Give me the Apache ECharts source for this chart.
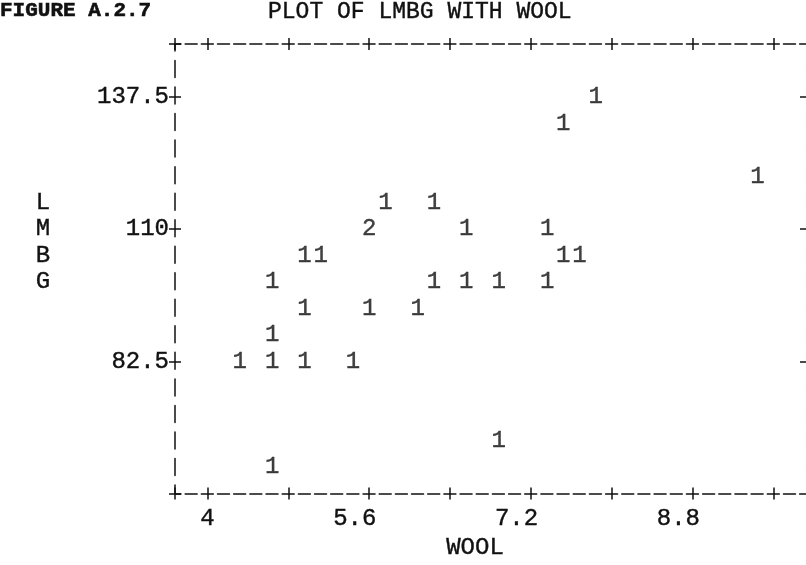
<!DOCTYPE html>
<html>
<head>
<meta charset="utf-8">
<script src="https://cdn.jsdelivr.net/npm/echarts@6/dist/echarts.min.js"></script>
<style>
  html, body { margin: 0; padding: 0; background: #ffffff; }
  #chart { width: 806px; height: 565px; }
</style>
</head>
<body>
<div id="chart"></div>
<script>
// Printer-style scatter of LMBG against WOOL; each mark is the count of
// observations falling in that character cell.
const wool  = [7.84, 7.52, 9.44, 5.76, 6.24, 5.60, 6.56, 7.36, 4.96, 5.12, 7.52, 7.68,
               4.64, 6.24, 6.56, 6.88, 7.36, 4.96, 5.60, 6.08, 4.64, 4.32, 4.64, 4.96,
               5.44, 6.88, 4.64];
const lmbg  = [137.5, 132, 121, 115.5, 115.5, 110, 110, 110, 104.5, 104.5, 104.5, 104.5,
               99, 99, 99, 99, 99, 93.5, 93.5, 93.5, 88, 82.5, 82.5, 82.5,
               82.5, 66, 60.5];
const counts = [1, 1, 1, 1, 1, 2, 1, 1, 1, 1, 1, 1,
                1, 1, 1, 1, 1, 1, 1, 1, 1, 1, 1, 1,
                1, 1, 1];

// axis extents (border rows/columns) and tick positions
const xMin = 3.68, xMax = 9.92;
const yMin = 55, yMax = 148.5;
const xTicks = [3.68, 4, 4.8, 5.6, 6.4, 7.2, 8.0, 8.8, 9.6];
const xLabelValues = [4, 5.6, 7.2, 8.8];
const xLabelText = ['4', '5.6', '7.2', '8.8'];
const yTicks = [55, 82.5, 110, 137.5, 148.5];
const yLabelValues = [82.5, 110, 137.5];
const yLabelText = ['82.5', '110', '137.5'];

const MONO = "'Courier New', 'Liberation Mono', monospace";
const INK = '#111111';
const TXT = { fontFamily: MONO, fontSize: 24, color: INK, textBorderColor: INK, textBorderWidth: 0.4 };

const points = wool.map((x, i) => [x, lmbg[i], counts[i]]);

function findLabel(values, texts, v) {
  for (let i = 0; i < values.length; i++) {
    if (Math.abs(values[i] - v) < 1e-6) return texts[i];
  }
  return '';
}

const borderH = { color: INK, width: 1.5, type: [12, 4.17], dashOffset: 6 };
const borderV = { color: INK, width: 1.5, type: [17, 9.53], dashOffset: 8.5 };
const tickStyle = { color: INK, width: 1.5 };

function xAx(pos, inside, extra) {
  return Object.assign({
    type: 'value', position: pos, min: xMin, max: xMax,
    axisLine: { show: !inside, lineStyle: borderH },
    axisTick: { show: true, inside: inside, length: 6, customValues: xTicks, lineStyle: tickStyle },
    axisLabel: { show: false },
    splitLine: { show: false }
  }, extra || {});
}
function yAx(pos, inside, extra) {
  return Object.assign({
    type: 'value', position: pos, min: yMin, max: yMax,
    axisLine: { show: !inside, lineStyle: borderV },
    axisTick: { show: true, inside: inside, length: 6, customValues: yTicks, lineStyle: tickStyle },
    axisLabel: { show: false },
    splitLine: { show: false }
  }, extra || {});
}

const chart = echarts.init(document.getElementById('chart'), null, { renderer: 'canvas' });
chart.setOption({
  animation: false,
  backgroundColor: '#ffffff',
  title: [
    { text: 'FIGURE A.2.7', left: 0, top: 0, padding: 0,
      textStyle: { fontFamily: MONO, fontSize: 21, fontWeight: 'bold', color: INK,
                   textBorderColor: INK, textBorderWidth: 0.6 } },
    { text: 'PLOT OF LMBG WITH WOOL', left: 268, top: 0, padding: 0,
      textStyle: Object.assign({}, TXT, { fontSize: 23, fontWeight: 'normal' }) }
  ],
  grid: { left: 175, right: 0, top: 44, bottom: 70, containLabel: false },
  xAxis: [
    xAx('bottom', false, {
      name: 'WOOL', nameLocation: 'middle', nameGap: 38,
      nameTextStyle: Object.assign({}, TXT, { padding: [0, 31, 0, 0] }),
      axisLabel: Object.assign({
        show: true, customValues: xLabelValues, margin: 13, align: 'center',
        // last character of each label sits under its tick
        formatter: v => {
          const t = findLabel(xLabelValues, xLabelText, v);
          return t + ' '.repeat(Math.max(0, t.length - 1));
        }
      }, TXT)
    }),
    xAx('bottom', true),
    xAx('top', false),
    xAx('top', true)
  ],
  yAxis: [
    yAx('left', false, {
      // two empty trailing lines lift the stacked letters by one row
      name: 'L\nM\nB\nG\n\n', nameLocation: 'middle', nameRotate: 0, nameGap: 132,
      nameTextStyle: Object.assign({}, TXT, { lineHeight: 26.5, align: 'center' }),
      axisLabel: Object.assign({
        show: true, customValues: yLabelValues, margin: 6,
        formatter: v => findLabel(yLabelValues, yLabelText, v)
      }, TXT)
    }),
    yAx('left', true),
    yAx('right', false, {
      axisLine: { show: true, lineStyle: { color: '#dcdcdc', width: 1.2, type: [17, 9.53], dashOffset: 8.5 } },
      axisTick: { show: true, inside: true, length: 6, customValues: yLabelValues, lineStyle: tickStyle }
    })
  ],
  series: [{
    type: 'scatter',
    xAxisIndex: 0, yAxisIndex: 0,
    data: points,
    symbolSize: 1,
    itemStyle: { color: 'rgba(0,0,0,0)' },
    label: Object.assign({
      show: true, position: 'inside',
      formatter: p => String(p.value[2])
    }, TXT),
    emphasis: { disabled: true },
    silent: true
  }]
});
</script>
</body>
</html>
